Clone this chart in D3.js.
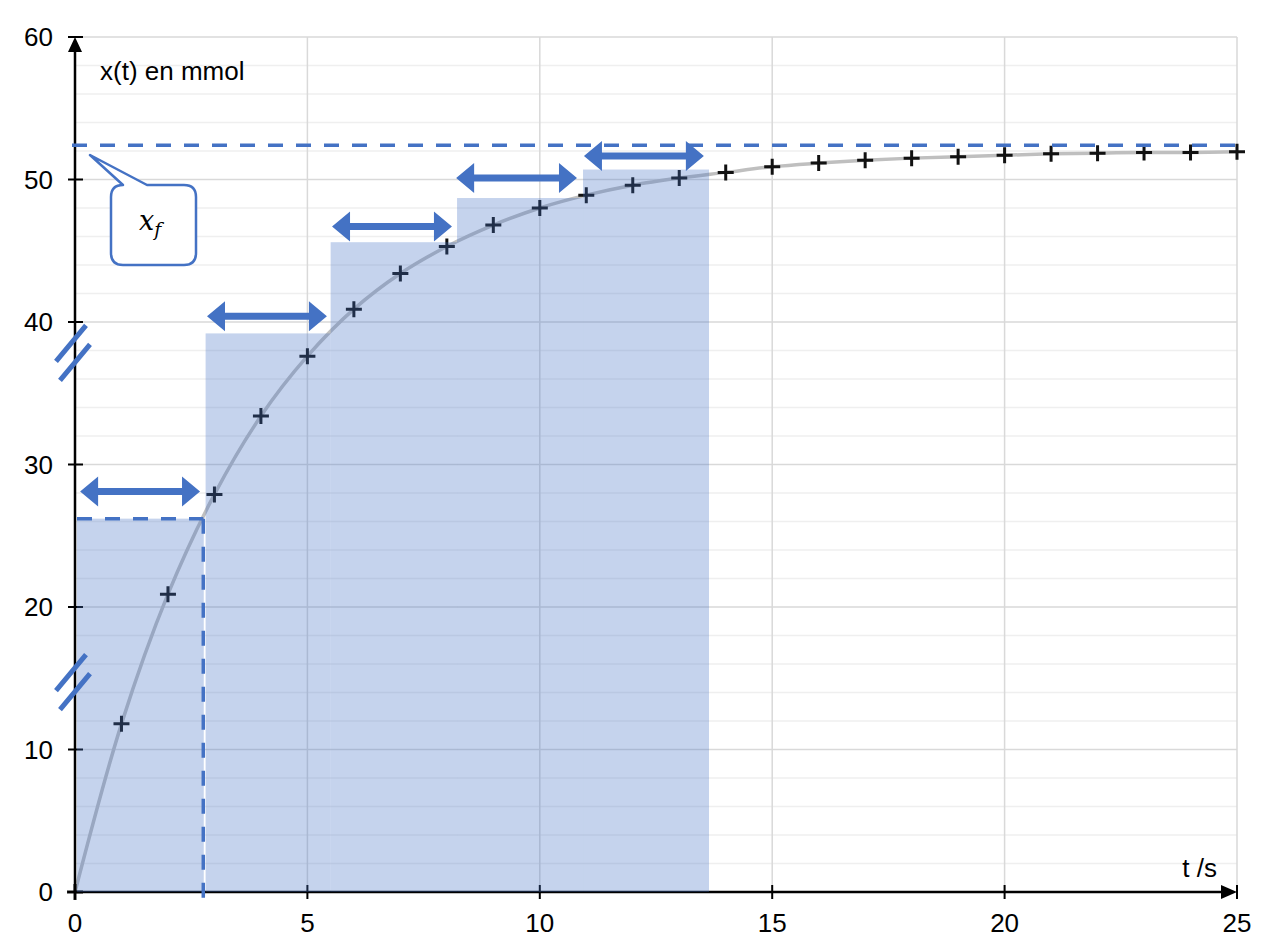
<!DOCTYPE html>
<html><head><meta charset="utf-8">
<script src="https://cdn.jsdelivr.net/npm/d3@7"></script>
<style>body{margin:0;background:#fff}svg{display:block}</style>
</head><body>
<svg id="c" width="1274" height="952"></svg>
<script>
const times = d3.range(0, 26);
const values = [0, 11.8, 20.9, 27.9, 33.4, 37.6, 40.9, 43.4, 45.3, 46.8, 48.0, 48.9, 49.6, 50.1, 50.5, 50.9, 51.15, 51.35, 51.5, 51.6, 51.7, 51.8, 51.85, 51.9, 51.9, 51.95];
const stepStart = [0.04, 2.81, 5.5, 8.22, 10.93];
const stepEnd = [2.77, 5.5, 8.22, 10.93, 13.64];
const stepHeight = [26.2, 39.2, 45.6, 48.7, 50.7];
const arrowStart = [0.11, 2.84, 5.53, 8.2, 10.95];
const arrowEnd = [2.69, 5.42, 8.11, 10.8, 13.53];
const arrowLevel = [28.1, 40.4, 46.7, 50.1, 51.65];
const xFinal = 52.4;
const tHalf = 2.76;
const xTicks = [0, 5, 10, 15, 20, 25];
const yTicks = [0, 10, 20, 30, 40, 50, 60];
const yMinor = d3.range(0, 61, 2);
const breakMarks = [38.5, 15.4];

const svg = d3.select("#c");
const x = d3.scaleLinear().domain([0, 25]).range([75, 1237]);
const y = d3.scaleLinear().domain([0, 60]).range([892, 37]);
const blue = "#4472C4";
const font = "'Liberation Sans', Arial, sans-serif";

// grid
svg.append("g").selectAll("line").data(yMinor.filter(v => v % 10 !== 0)).join("line")
  .attr("x1", x(0)).attr("x2", x(25)).attr("y1", d => y(d)).attr("y2", d => y(d))
  .attr("stroke", "#efefef").attr("stroke-width", 1.5);
svg.append("g").selectAll("line").data(yTicks.filter(v => v > 0)).join("line")
  .attr("x1", x(0)).attr("x2", x(25)).attr("y1", d => y(d)).attr("y2", d => y(d))
  .attr("stroke", "#d9d9d9").attr("stroke-width", 1.5);
svg.append("g").selectAll("line").data(xTicks.filter(v => v > 0)).join("line")
  .attr("x1", d => x(d)).attr("x2", d => x(d)).attr("y1", y(0)).attr("y2", y(60))
  .attr("stroke", "#d9d9d9").attr("stroke-width", 1.5);

// curve
const pts = times.map((t, i) => [t, values[i]]);
svg.append("path").datum(pts)
  .attr("d", d3.line().x(d => x(d[0])).y(d => y(d[1])).curve(d3.curveCatmullRom))
  .attr("fill", "none").attr("stroke", "#bfbfbf").attr("stroke-width", 3.5);

// crosses
svg.append("g").selectAll("path").data(pts).join("path")
  .attr("d", d => { const cx = x(d[0]), cy = y(d[1]); return `M${cx-8},${cy}H${cx+8}M${cx},${cy-8}V${cy+8}`; })
  .attr("stroke", "#111").attr("stroke-width", 3);

// axes
const axG = svg.append("g");
axG.append("line").attr("x1", x(0)).attr("x2", x(25)-12).attr("y1", y(0)).attr("y2", y(0)).attr("stroke", "#000").attr("stroke-width", 2.5);
axG.append("line").attr("x1", x(0)).attr("x2", x(0)).attr("y1", y(0)).attr("y2", y(60)+12).attr("stroke", "#000").attr("stroke-width", 2.5);
axG.append("path").attr("d", `M${x(0)},${y(60)}L${x(0)-7},${y(60)+15}L${x(0)+7},${y(60)+15}Z`).attr("fill", "#000");
axG.append("path").attr("d", `M${x(25)},${y(0)}L${x(25)-16},${y(0)-7}L${x(25)-16},${y(0)+7}Z`).attr("fill", "#000");
axG.selectAll(".yt").data(yTicks).join("line").attr("x1", x(0)-7).attr("x2", x(0)+8)
  .attr("y1", d => y(d)).attr("y2", d => y(d)).attr("stroke", "#000").attr("stroke-width", 2);
axG.selectAll(".xt").data(xTicks).join("line").attr("y1", y(0)-7).attr("y2", y(0)+7)
  .attr("x1", d => x(d)).attr("x2", d => x(d)).attr("stroke", "#000").attr("stroke-width", 2);
axG.selectAll(".yl").data(yTicks).join("text").attr("x", 53).attr("y", d => y(d)).attr("dy", "0.36em")
  .attr("text-anchor", "end").attr("font-family", font).attr("font-size", 26).text(d => d);
axG.selectAll(".xl").data(xTicks).join("text").attr("x", d => x(d)).attr("y", 932)
  .attr("text-anchor", "middle").attr("font-family", font).attr("font-size", 26).text(d => d);
svg.append("text").attr("x", 100).attr("y", 80).attr("font-family", font).attr("font-size", 26).text("x(t) en mmol");
svg.append("text").attr("x", 1217).attr("y", 877).attr("text-anchor", "end").attr("font-family", font).attr("font-size", 26).text("t /s");

// steps
svg.append("g").selectAll("rect").data(stepHeight).join("rect")
  .attr("x", (d, i) => x(stepStart[i])).attr("width", (d, i) => x(stepEnd[i]) - x(stepStart[i]))
  .attr("y", d => y(d)).attr("height", d => y(0) - y(d))
  .attr("fill", blue).attr("fill-opacity", 0.31);

// dashed lines
svg.append("line").attr("x1", x(0)-3).attr("x2", x(25)).attr("y1", y(xFinal)).attr("y2", y(xFinal))
  .attr("stroke", blue).attr("stroke-width", 3.5).attr("stroke-dasharray", "15,13");
svg.append("line").attr("x1", x(0)+2).attr("x2", x(tHalf)).attr("y1", y(stepHeight[0])).attr("y2", y(stepHeight[0]))
  .attr("stroke", blue).attr("stroke-width", 3.5).attr("stroke-dasharray", "15,13");
svg.append("line").attr("x1", x(tHalf)).attr("x2", x(tHalf)).attr("y1", y(stepHeight[0])).attr("y2", y(0)+7)
  .attr("stroke", blue).attr("stroke-width", 3.5).attr("stroke-dasharray", "15,13");

// arrows
svg.append("g").selectAll("path").data(arrowLevel).join("path")
  .attr("d", (d, i) => {
    const a = x(arrowStart[i]), b = x(arrowEnd[i]), c = y(d), hl = 18, hh = 15, sh = 3.5;
    return `M${a},${c}L${a+hl},${c-hh}L${a+hl},${c-sh}L${b-hl},${c-sh}L${b-hl},${c-hh}L${b},${c}L${b-hl},${c+hh}L${b-hl},${c+sh}L${a+hl},${c+sh}L${a+hl},${c+hh}Z`;
  })
  .attr("fill", blue);

// axis break marks
svg.append("g").selectAll("path").data(breakMarks).join("path")
  .attr("d", d => { const c = y(d); return `M56,${c+18}L86,${c-18}M60,${c+37}L90,${c+1}`; })
  .attr("stroke", blue).attr("stroke-width", 5).attr("fill", "none");

// callout
svg.append("path")
  .attr("d", "M123,185 L90,155 L147,185 L184,185 Q196,185 196,197 L196,253 Q196,265 184,265 L123,265 Q111,265 111,253 L111,197 Q111,185 123,185 Z")
  .attr("fill", "#fff").attr("stroke", blue).attr("stroke-width", 2.5).attr("stroke-linejoin", "round");
const tx = svg.append("text").attr("x", 139).attr("y", 230).attr("font-family", "'DejaVu Serif', 'Liberation Serif', serif")
  .attr("font-style", "italic").attr("font-size", 27);
tx.append("tspan").text("x");
tx.append("tspan").attr("font-size", 19).attr("dy", 6).text("f");
</script>
</body></html>
